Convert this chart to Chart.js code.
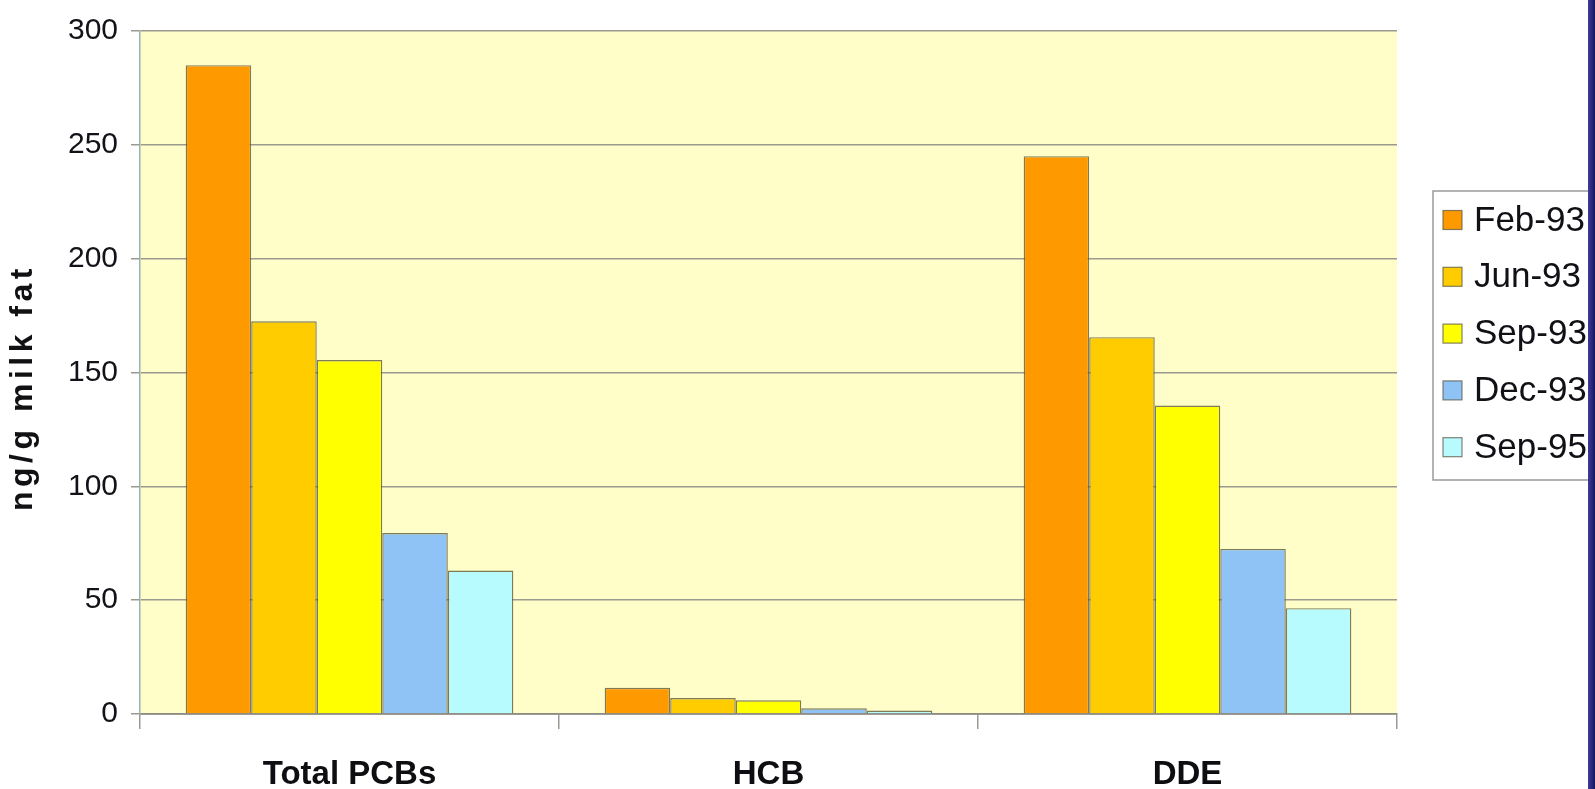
<!DOCTYPE html>
<html>
<head>
<meta charset="utf-8">
<script src="https://cdn.jsdelivr.net/npm/chart.js@4.4.1/dist/chart.umd.min.js"></script>
<style>
  html, body { margin: 0; padding: 0; background: #fff; overflow: hidden; }
  #wrap { position: relative; width: 1595px; height: 789px; background: #fff; }
  #box { position: absolute; left: 0; top: 0; width: 1588px; height: 789px; }
  #edge { position: absolute; right: 0; top: 0; width: 7px; height: 789px;
          background: linear-gradient(to right, #3c3c9c, #15155f); }
</style>
</head>
<body>
<div id="wrap">
  <div id="box"><canvas id="c"></canvas></div>
  <div id="edge"></div>
</div>
<script>
// Organochlorine residues in milk fat, by sampling date
const categories = ['Total PCBs', 'HCB', 'DDE'];
const seriesNames = ['Feb-93', 'Jun-93', 'Sep-93', 'Dec-93', 'Sep-95'];
const feb93 = [285, 11.5, 245];
const jun93 = [172.5, 7, 165.5];
const sep93 = [155.5, 6, 135.5];
const dec93 = [79.5, 2.5, 72.5];
const sep95 = [63, 1.5, 46.5];
const yTickLabels = ['0', '50', '100', '150', '200', '250', '300'];
const yAxisTitle = 'ng/g milk fat';

const seriesValues = [feb93, jun93, sep93, dec93, sep95];
const seriesColors = ['#FF9900', '#FFCC00', '#FFFF00', '#8FC3F5', '#B8FBFF'];
const FONT = '"Liberation Sans", Arial, Helvetica, sans-serif';

// pale yellow fill behind the plot area
const plotBackground = {
  id: 'plotBackground',
  beforeDraw(chart) {
    const { ctx, chartArea: a } = chart;
    ctx.save();
    ctx.fillStyle = '#FFFDC8';
    ctx.fillRect(a.left, a.top, a.right - a.left, a.bottom - a.top);
    ctx.restore();
  }
};

// rotated, letter-spaced title for the value axis
const valueAxisTitle = {
  id: 'valueAxisTitle',
  afterDraw(chart) {
    const { ctx, chartArea: a } = chart;
    ctx.save();
    ctx.translate(23, (a.top + a.bottom) / 2 + 15);
    ctx.rotate(-Math.PI / 2);
    ctx.font = 'bold 32px ' + FONT;
    if ('letterSpacing' in ctx) ctx.letterSpacing = '4.5px';
    ctx.fillStyle = '#111114';
    ctx.textAlign = 'center';
    ctx.textBaseline = 'middle';
    ctx.fillText(yAxisTitle, 0, 0);
    ctx.restore();
  }
};

// boxed legend to the right of the plot
const boxedLegend = {
  id: 'boxedLegend',
  afterDraw(chart) {
    const { ctx } = chart;
    const x0 = 1433, y0 = 191, w = 170, h = 289;
    ctx.save();
    ctx.fillStyle = '#ffffff';
    ctx.fillRect(x0, y0, w, h);
    ctx.strokeStyle = '#9a9a9a';
    ctx.lineWidth = 1.5;
    ctx.strokeRect(x0, y0, w, h);
    ctx.font = '35px ' + FONT;
    ctx.textBaseline = 'middle';
    chart.data.datasets.forEach((ds, i) => {
      const cy = 220 + i * 56.8;
      ctx.fillStyle = ds.backgroundColor;
      ctx.fillRect(1443, cy - 9.5, 19, 19);
      ctx.strokeStyle = 'rgba(90,90,70,0.75)';
      ctx.lineWidth = 1.2;
      ctx.strokeRect(1443, cy - 9.5, 19, 19);
      ctx.fillStyle = '#101016';
      ctx.fillText(ds.label, 1474, cy + 1);
    });
    ctx.restore();
  }
};

new Chart(document.getElementById('c'), {
  type: 'bar',
  data: {
    labels: categories,
    datasets: seriesNames.map((name, i) => ({
      label: name,
      data: seriesValues[i],
      backgroundColor: seriesColors[i],
      borderColor: 'rgba(95,90,60,0.8)',
      borderWidth: 1.4,
      borderSkipped: 'bottom',
      barPercentage: 1.0,
      categoryPercentage: 0.782
    }))
  },
  options: {
    responsive: true,
    maintainAspectRatio: false,
    animation: false,
    layout: { padding: { top: 28, right: 191, bottom: 0, left: 0 } },
    plugins: {
      legend: { display: false },
      tooltip: { enabled: false }
    },
    scales: {
      x: {
        afterFit(scale) { scale.height = 75; },
        grid: {
          offset: true,
          drawOnChartArea: false,
          drawTicks: true,
          tickLength: 15,
          color: '#9a9a92',
          lineWidth: 1.5
        },
        border: { display: true, color: '#8c8c84', width: 1.8 },
        ticks: {
          color: '#0e0e12',
          padding: 26,
          font: { family: FONT, size: 33, weight: 'bold' }
        }
      },
      y: {
        min: 0,
        max: 300,
        afterFit(scale) { scale.width = 140; },
        afterBuildTicks(scale) {
          scale.ticks = yTickLabels.map(t => ({ value: Number(t) }));
        },
        grid: {
          color: '#9a9a8e',
          lineWidth: 1.5,
          tickLength: 9
        },
        border: { display: true, color: '#9ab0b8', width: 1.5 },
        ticks: {
          color: '#121218',
          padding: 13,
          font: { family: FONT, size: 30 },
          callback: (v) => String(v)
        },
        title: { display: false }
      }
    }
  },
  plugins: [plotBackground, valueAxisTitle, boxedLegend]
});
</script>
</body>
</html>
